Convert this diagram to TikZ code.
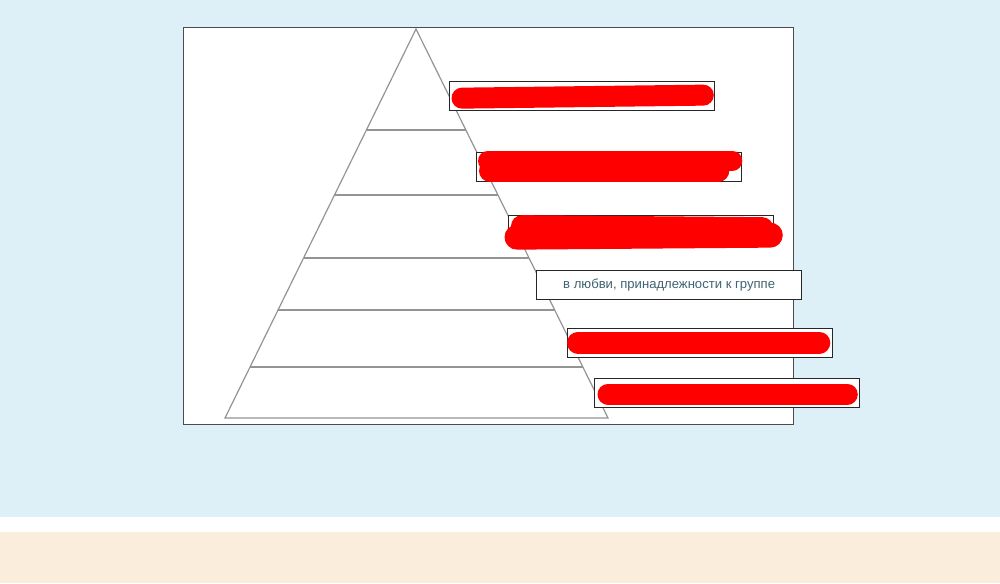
\documentclass[tikz,border=0pt]{standalone}
\usepackage{fontspec}
\setmainfont{Liberation Sans}
\usetikzlibrary{calc}
\definecolor{skyback}{HTML}{DDEFF7}
\definecolor{sandback}{HTML}{FBEDDC}
\definecolor{tagtext}{HTML}{3F6272}

\begin{document}
\begin{tikzpicture}[x=1pt, y=-1pt,
  level/.style={draw=black!42, line width=1.2pt},
  tag/.style={draw=black!85, fill=white, line width=1.3pt, minimum width=265pt,
    minimum height=29pt, inner sep=0pt, anchor=north west,
    font=\fontsize{13.1}{15}\selectfont, text=tagtext},
  blot/.style={red, line width=20pt, line cap=round}]
  % background bands
  \fill[skyback] (0,0) rectangle (1000,517);
  \fill[white] (0,517) rectangle (1000,532);
  \fill[sandback] (0,532) rectangle (1000,583);
  \useasboundingbox (0,0) rectangle (1000,583);
  % frame
  \draw[draw=black!70, fill=white, line width=1pt] (183,28) rectangle (793,424);
  % pyramid
  \coordinate (apex) at (416,29);
  \coordinate (bl) at (225,418);
  \coordinate (br) at (608,418);
  \draw[level] (bl) -- (apex) -- (br) -- cycle;
  \foreach \y in {130,195,258,310,367} {
    \pgfmathsetmacro\t{(\y-29)/389}
    \draw[level] ($(apex)!\t!(bl)$) -- ($(apex)!\t!(br)$);
  }
  % tags
  \node[tag] (tagA) at (449,81) {};
  \node[tag] (tagB) at (476,151.5) {};
  \node[tag] (tagC) at (508,215) {};
  \node[tag] (tagD) at (536,270) {\raisebox{-1.5pt}{в любви, принадлежности к группе}};
  \node[tag] (tagE) at (567,327.5) {};
  \node[tag] (tagF) at (594,378) {};
  % red blots
  \draw[blot, line width=21pt] ([xshift=13pt,yshift=-2pt]tagA.west) -- ([xshift=-12pt,yshift=1pt]tagA.east);
  \draw[blot] ([xshift=12pt,yshift=6pt]tagB.west) -- ([xshift=-10pt,yshift=6pt]tagB.east);
  \draw[blot, line width=22pt] ([xshift=14pt,yshift=-4pt]tagB.west) -- ([xshift=-24pt,yshift=-4pt]tagB.east);
  \draw[blot, line width=22pt] ([xshift=14pt,yshift=4pt]tagC.west) -- ([xshift=-12pt,yshift=2pt]tagC.east);
  \draw[blot, line width=25pt] ([xshift=9pt,yshift=-7pt]tagC.west) -- ([xshift=-4pt,yshift=-5pt]tagC.east);
  \draw[blot, line width=22pt] ([xshift=11pt]tagE.west) -- ([xshift=-14pt]tagE.east);
  \draw[blot, line width=21pt] ([xshift=14pt,yshift=-1pt]tagF.west) -- ([xshift=-13pt,yshift=-1pt]tagF.east);
\end{tikzpicture}
\end{document}
